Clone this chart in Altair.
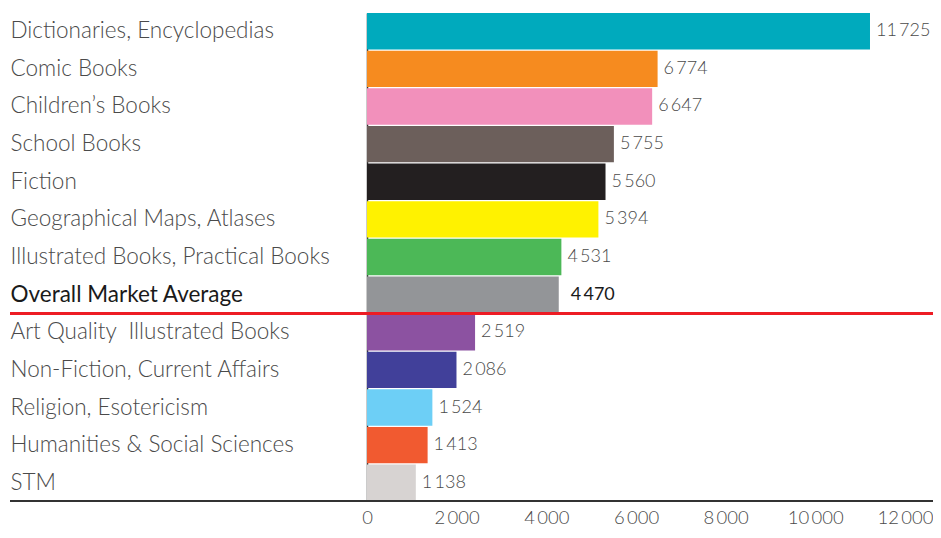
import altair as alt
import pandas as pd

categories = [
    "Dictionaries, Encyclopedias",
    "Comic Books",
    "Children\u2019s Books",
    "School Books",
    "Fiction",
    "Geographical Maps, Atlases",
    "Illustrated Books, Practical Books",
    "Overall Market Average",
    "Art Quality\u00a0 Illustrated Books",
    "Non-Fiction, Current Affairs",
    "Religion, Esotericism",
    "Humanities & Social Sciences",
    "STM",
]
values = [11725, 6774, 6647, 5755, 5560, 5394, 4531, 4470, 2519, 2086, 1524, 1413, 1138]
colors = [
    "#00AABD", "#F68B1F", "#F290BB", "#6C5F5B", "#231F20", "#FFF200", "#4CB857",
    "#939598", "#8C52A1", "#41409A", "#6DCFF6", "#F15A30", "#D7D3D2",
]
tick_values = [0, 2000, 4000, 6000, 8000, 10000, 12000]

HIGHLIGHT = "Overall Market Average"
W, H = 538, 488
PAD_L, PAD_T, PAD_R, PAD_B = 359, 5, 28, 29
FONT = "Lato"
SEP = "\u2009"

df = pd.DataFrame({"cat": categories, "val": values, "color": colors})
df["label"] = [f"{v:,}".replace(",", SEP) for v in values]
df["hl"] = df["cat"] == HIGHLIGHT

y_enc = alt.Y(
    "cat:N", sort=categories, title=None,
    scale=alt.Scale(paddingInner=0.03, paddingOuter=0),
    axis=alt.Axis(
        ticks=False, tickSize=0, labelAlign="left", labelPadding=PAD_L - 2,
        labelFont=FONT, labelFontSize=22.5, labelLimit=400,
        labelColor=alt.expr(f"datum.value == '{HIGHLIGHT}' ? '#1a1a1a' : '#4a4a4a'"),
        labelFontWeight=alt.expr(f"datum.value == '{HIGHLIGHT}' ? 400 : 300"),
        domainColor="#333333", domainWidth=1.5,
    ),
)
xs = alt.Scale(domain=[0, 12541], nice=False)

base = alt.Chart(df)
bars = base.mark_bar().encode(
    x=alt.X("val:Q", scale=xs, axis=None),
    y=y_enc,
    color=alt.Color("color:N", scale=None),
)
text_normal = base.transform_filter("!datum.hl").mark_text(
    align="left", baseline="middle", dx=6, font=FONT, fontSize=18,
    fontWeight=300, color="#4a4a4a",
).encode(
    x=alt.X("val:Q", scale=xs, axis=None),
    y=alt.Y("cat:N", sort=categories),
    text="label:N",
)
text_hl = base.transform_filter("datum.hl").mark_text(
    align="left", baseline="middle", dx=12, font=FONT, fontSize=18,
    fontWeight=400, color="#1a1a1a",
).encode(
    x=alt.X("val:Q", scale=xs, axis=None),
    y=alt.Y("cat:N", sort=categories),
    text="label:N",
)
data_layer = alt.layer(bars, text_normal, text_hl)

axis_df = pd.DataFrame({"t": tick_values})
axis_layer = alt.Chart(axis_df).mark_point(opacity=0).encode(
    x=alt.X(
        "t:Q", scale=alt.Scale(domain=[0, 12000], nice=False), title=None,
        axis=alt.Axis(
            orient="bottom", values=tick_values, domain=False, ticks=False, tickSize=0,
            grid=False, labelPadding=7, labelFont=FONT, labelFontSize=18.5,
            labelFontWeight=300, labelColor="#4a4a4a",
            labelExpr=f"replace(format(datum.value, ','), ',', '{SEP}')",
            labelFlush=False,
        ),
    )
)

red_rule = alt.Chart(df).mark_rule(color="#ED1C24", strokeWidth=2.2).encode(
    x=alt.value(-(PAD_L - 2)), x2=alt.value(W + PAD_R), y=alt.value(H * 8 / 13)
)
bottom_rule = alt.Chart(df).mark_rule(color="#333333", strokeWidth=1.5).encode(
    x=alt.value(-(PAD_L - 2)), x2=alt.value(W + PAD_R), y=alt.value(H)
)

chart = (
    alt.layer(data_layer, axis_layer, red_rule, bottom_rule)
    .resolve_scale(x="independent")
    .properties(
        width=W, height=H,
        autosize=alt.AutoSizeParams(type="none"),
        padding={"left": PAD_L, "top": PAD_T, "right": PAD_R, "bottom": PAD_B},
    )
    .configure_view(stroke=None)
    .configure_axis(grid=False)
)

chart.save("out.html", embed_options={"renderer": "svg", "actions": False})
